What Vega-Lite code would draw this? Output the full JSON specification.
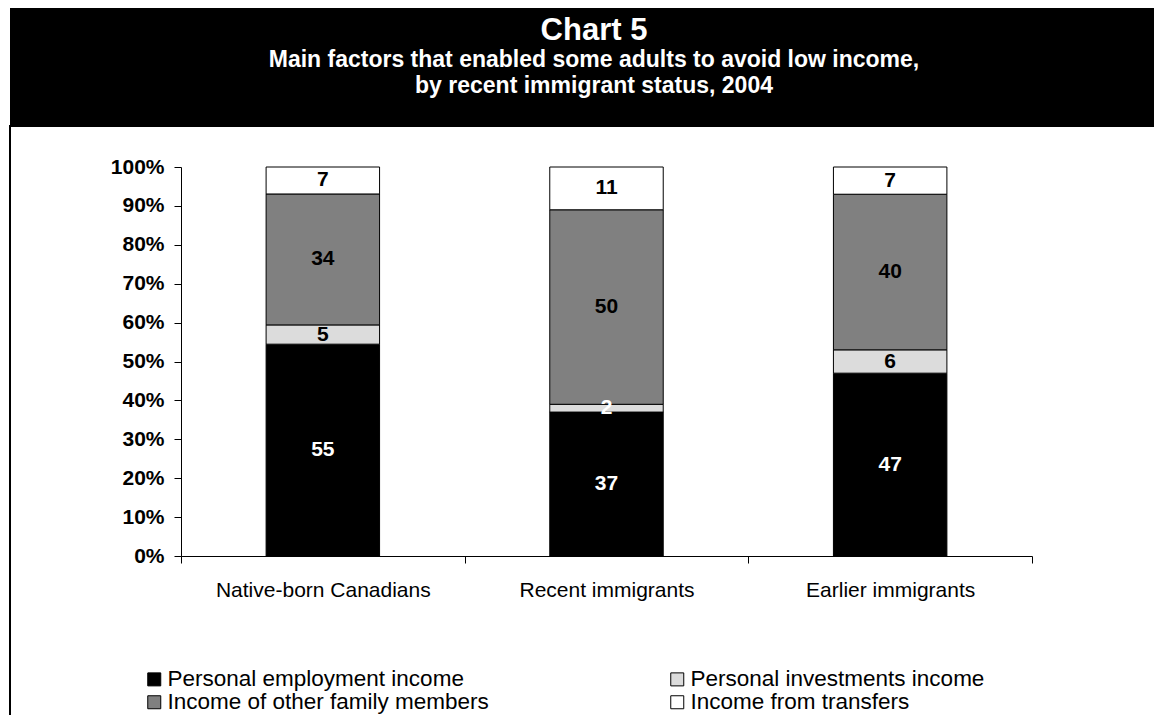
{
  "$schema": "https://vega.github.io/schema/vega-lite/v6.json",
  "padding": {"left": 9, "top": 8, "right": 0, "bottom": 0},
  "background": "white",
  "bounds": "flush",
  "spacing": 0,
  "config": {"font": "Liberation Sans", "view": {"stroke": null}},
  "vconcat": [
    {
      "width": 1150,
      "height": 118,
      "view": {"fill": "black", "stroke": null},
      "data": {"values": [
        {"line": 1, "text": "Chart 5"},
        {"line": 2, "text": "Main factors that enabled some adults to avoid low income,"},
        {"line": 3, "text": "by recent immigrant status, 2004"}
      ]},
      "mark": {"type": "text", "color": "white", "fontWeight": "bold", "align": "center", "baseline": "alphabetic", "dx": 9},
      "encoding": {
        "y": {"field": "line", "type": "ordinal", "axis": null, "scale": {"range": [32, 85], "padding": 0}},
        "text": {"field": "text"},
        "size": {"condition": {"test": "datum.line === 1", "value": 31}, "value": 23}
      }
    },
    {
      "width": 1150,
      "height": 600,
      "view": {"stroke": "black", "strokeWidth": 2},
      "data": {"values": [
        {"group": "Native-born Canadians", "factor": "Personal employment income", "k": 1, "value": 55},
        {"group": "Native-born Canadians", "factor": "Personal investments income", "k": 2, "value": 5},
        {"group": "Native-born Canadians", "factor": "Income of other family members", "k": 3, "value": 34},
        {"group": "Native-born Canadians", "factor": "Income from transfers", "k": 4, "value": 7},
        {"group": "Recent immigrants", "factor": "Personal employment income", "k": 1, "value": 37},
        {"group": "Recent immigrants", "factor": "Personal investments income", "k": 2, "value": 2},
        {"group": "Recent immigrants", "factor": "Income of other family members", "k": 3, "value": 50},
        {"group": "Recent immigrants", "factor": "Income from transfers", "k": 4, "value": 11},
        {"group": "Earlier immigrants", "factor": "Personal employment income", "k": 1, "value": 47},
        {"group": "Earlier immigrants", "factor": "Personal investments income", "k": 2, "value": 6},
        {"group": "Earlier immigrants", "factor": "Income of other family members", "k": 3, "value": 40},
        {"group": "Earlier immigrants", "factor": "Income from transfers", "k": 4, "value": 7}
      ]},
      "transform": [
        {"stack": "value", "groupby": ["group"], "offset": "normalize", "sort": [{"field": "k", "order": "ascending"}], "as": ["y0", "y1"]},
        {"calculate": "(datum.y0 + datum.y1) / 2", "as": "ymid"}
      ],
      "encoding": {
        "x": {
          "field": "group",
          "type": "nominal",
          "sort": null,
          "scale": {"range": [171, 1022], "paddingInner": 0, "paddingOuter": 0},
          "axis": {
            "orient": "bottom",
            "offset": -170,
            "title": null,
            "labelAngle": 0,
            "tickBand": "extent",
            "tickSize": 7,
            "tickColor": "black",
            "domainColor": "black",
            "labelFontSize": 21,
            "labelColor": "black",
            "labelPadding": 16,
            "labelLimit": 0,
            "grid": false
          }
        }
      },
      "layer": [
        {
          "mark": {"type": "bar", "stroke": "black", "strokeWidth": 1, "width": {"band": 0.4}},
          "encoding": {
            "y": {
              "field": "y0",
              "type": "quantitative",
              "scale": {"domain": [0, 1], "range": [430, 41], "nice": false},
              "axis": {
                "title": null,
                "offset": -171,
                "values": [0, 0.1, 0.2, 0.3, 0.4, 0.5, 0.6, 0.7, 0.8, 0.9, 1],
                "format": ".0%",
                "grid": false,
                "tickSize": 7,
                "tickColor": "black",
                "domainColor": "black",
                "labelFontSize": 21,
                "labelFontWeight": "bold",
                "labelColor": "black",
                "labelPadding": 10
              }
            },
            "y2": {"field": "y1"},
            "color": {
              "field": "factor",
              "type": "nominal",
              "scale": {
                "domain": ["Personal employment income", "Personal investments income", "Income of other family members", "Income from transfers"],
                "range": ["#000000", "#dcdcdc", "#808080", "#ffffff"]
              },
              "legend": {
                "title": null,
                "orient": "none",
                "direction": "horizontal",
                "legendX": 133,
                "legendY": 660,
                "columns": 2,
                "columnPadding": 177,
                "rowPadding": 0,
                "padding": 0,
                "symbolType": "square",
                "symbolSize": 169,
                "symbolStrokeColor": "black",
                "symbolStrokeWidth": 1,
                "symbolOpacity": 1,
                "labelFontSize": 22.5,
                "labelColor": "black",
                "labelOffset": 2,
                "labelLimit": 0
              }
            }
          }
        },
        {
          "mark": {"type": "text", "fontWeight": "bold", "fontSize": 21, "baseline": "middle", "align": "center"},
          "encoding": {
            "y": {"field": "ymid", "type": "quantitative"},
            "text": {"field": "value"},
            "color": {"condition": {"test": "datum.k === 1 || datum.value < 3", "value": "white"}, "value": "black"}
          }
        }
      ]
    }
  ]
}
